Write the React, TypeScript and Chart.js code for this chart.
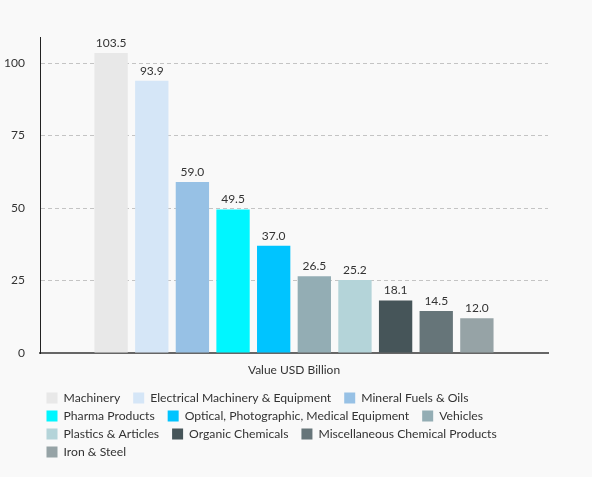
import React, { useEffect, useRef } from "react";
import { Chart, registerables } from "chart.js";

Chart.register(...registerables);

const categories = ["Value USD Billion"];
const seriesNames = [
  "Machinery",
  "Electrical Machinery & Equipment",
  "Mineral Fuels & Oils",
  "Pharma Products",
  "Optical, Photographic, Medical Equipment",
  "Vehicles",
  "Plastics & Articles",
  "Organic Chemicals",
  "Miscellaneous Chemical Products",
  "Iron & Steel",
];
const seriesValues = [103.5, 93.9, 59.0, 49.5, 37.0, 26.5, 25.2, 18.1, 14.5, 12.0];
const seriesColors = [
  "#e8e8e8",
  "#d5e6f7",
  "#97c1e5",
  "#00f6ff",
  "#00c4ff",
  "#93adb4",
  "#b4d4d9",
  "#465559",
  "#667579",
  "#96a3a6",
];
const yTicks = [0, 25, 50, 75, 100];

const FONT = "Lato";
const TEXT_COLOR = "#333333";

const valueLabelPlugin = {
  id: "valueLabels",
  afterDatasetsDraw(chart: any) {
    const ctx = chart.ctx;
    ctx.save();
    ctx.font = `12px ${FONT}`;
    ctx.fillStyle = TEXT_COLOR;
    ctx.textAlign = "center";
    ctx.textBaseline = "middle";
    chart.data.datasets.forEach((ds: any, i: number) => {
      const meta = chart.getDatasetMeta(i);
      meta.data.forEach((el: any, j: number) => {
        const v = ds.data[j];
        ctx.fillText(Number(v).toFixed(1), el.x, el.y - 10);
      });
    });
    ctx.restore();
  },
};

const legendPlugin = {
  id: "wrappedLegend",
  afterDraw(chart: any) {
    const ctx = chart.ctx;
    const left = 46.5;
    const maxRight = 540;
    const rowH = 18;
    const box = 11;
    const textOffset = 17;
    const itemGap = 13;
    let x = left;
    let y = 392.5;
    ctx.save();
    ctx.font = `12.2px ${FONT}`;
    ctx.textAlign = "left";
    ctx.textBaseline = "middle";
    chart.data.datasets.forEach((ds: any) => {
      const w = textOffset + ctx.measureText(ds.label).width;
      if (x > left && x + w > maxRight) {
        x = left;
        y += rowH;
      }
      ctx.fillStyle = ds.backgroundColor;
      ctx.fillRect(x, y, box, box);
      ctx.fillStyle = TEXT_COLOR;
      ctx.fillText(ds.label, x + textOffset, y + box / 2 + 0.5);
      x += w + itemGap;
    });
    ctx.restore();
  },
};

export default function App() {
  const canvasRef = useRef<HTMLCanvasElement | null>(null);

  useEffect(() => {
    if (!canvasRef.current) return;
    Chart.defaults.font.family = FONT;
    const chart = new Chart(canvasRef.current, {
      type: "bar",
      data: {
        labels: categories,
        datasets: seriesNames.map((name, i) => ({
          label: name,
          data: [seriesValues[i]],
          backgroundColor: seriesColors[i],
          borderWidth: 0,
          categoryPercentage: 0.8,
          barPercentage: 0.82,
        })),
      },
      options: {
        responsive: false,
        animation: false,
        layout: { padding: { top: 37, left: 0, right: 44, bottom: 89.6 } },
        plugins: {
          legend: { display: false },
          tooltip: { enabled: false },
          title: { display: false },
        },
        scales: {
          x: {
            grid: { display: false, drawTicks: false },
            border: { display: true, color: "#666666", width: 2 },
            ticks: { color: TEXT_COLOR, font: { family: FONT, size: 12 }, padding: 10 },
          },
          y: {
            min: 0,
            max: 109,
            afterBuildTicks: (axis: any) => {
              axis.ticks = yTicks.map((v) => ({ value: v }));
            },
            afterFit: (axis: any) => {
              axis.width = 40;
            },
            ticks: { color: TEXT_COLOR, font: { family: FONT, size: 12 }, padding: 15 },
            grid: {
              drawTicks: false,
              lineWidth: 1,
              color: (c: any) =>
                c.tick && c.tick.value === 0 ? "rgba(0,0,0,0)" : "#c4c4c4",
            },
            border: { display: true, color: "#222222", width: 1, dash: [4, 3] },
          },
        },
      },
      plugins: [valueLabelPlugin, legendPlugin],
    });
    return () => chart.destroy();
  }, []);

  return (
    <div
      style={{
        position: "absolute",
        top: 0,
        left: 0,
        width: 592,
        height: 477,
        background: "#f9f9f9",
      }}
    >
      <canvas ref={canvasRef} width={592} height={477} style={{ display: "block" }} />
    </div>
  );
}
